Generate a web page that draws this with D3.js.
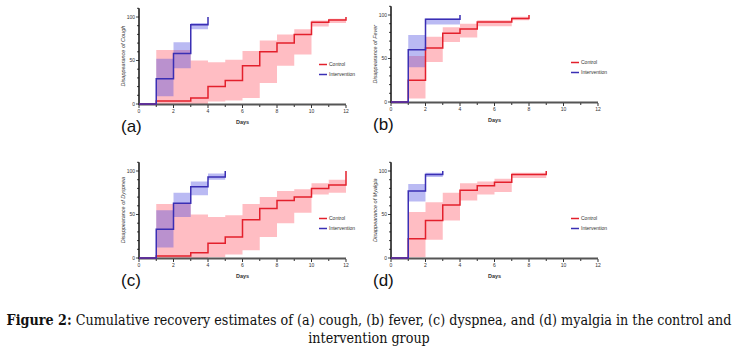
<!DOCTYPE html>
<html>
<head>
<script src="https://cdn.jsdelivr.net/npm/d3@7"></script>
<style>
  body { margin: 0; background: #fff; }
  text { font-family: "Liberation Sans", Arial, sans-serif; }
</style>
</head>
<body>
<svg width="738" height="353" id="mainSvg"></svg>
<script>
// days at which each step interval starts (0,1,2,...), value holds until next day
const symptoms = ["Cough", "Fever", "Dyspnea", "Myalgia"];
const panelTags = ["(a)", "(b)", "(c)", "(d)"];
const groups = ["Control", "Intervention"];
const xTicks = [0, 2, 4, 6, 8, 10, 12];
const yTicks = [0, 50, 100];

// (a) cough
const coughCtrl   = [0, 3.5, 3.5, 7, 20, 27, 44, 60, 70, 80, 94, 96.5];
const coughCtrlLo = [0, 0, 0, 0, 3, 4, 7, 24, 44, 57, 89, 93];
const coughCtrlHi = [0, 62, 62, 50, 48, 51, 61, 73, 80, 86, 96, 98];
const coughInt    = [0, 29, 58, 91];
const coughIntLo  = [0, 9, 41, 86];
const coughIntHi  = [0, 52, 71, 93];

// (b) fever
const feverCtrl   = [0, 25, 62, 79, 84, 92, 92, 96];
const feverCtrlLo = [0, 4, 46, 69, 74, 87, 87, 94];
const feverCtrlHi = [0, 53, 75, 86, 90, 94, 94, 98];
const feverInt    = [0, 60, 95, 95];
const feverIntLo  = [0, 40, 89, 89];
const feverIntHi  = [0, 77, 96, 96];

// (c) dyspnea
const dyspCtrl   = [0, 2.3, 2.3, 6, 17, 24, 44, 57, 66, 70, 80, 84];
const dyspCtrlLo = [0, 0, 0, 0, 1, 4, 9, 24, 40, 52, 73, 75];
const dyspCtrlHi = [0, 62, 62, 50, 47, 49, 62, 70, 77, 79, 86, 90];
const dyspInt    = [0, 33, 63, 82, 93];
const dyspIntLo  = [0, 12, 47, 72, 90];
const dyspIntHi  = [0, 55, 75, 88, 97];

// (d) myalgia
const myalCtrl   = [0, 22, 43, 61, 78, 83, 87, 96, 96];
const myalCtrlLo = [0, 1, 21, 43, 66, 73, 76, 92, 92];
const myalCtrlHi = [0, 53, 64, 75, 86, 88, 91, 98, 98];
const myalInt    = [0, 77, 96];
const myalIntLo  = [0, 65, 93];
const myalIntHi  = [0, 85, 98];

const panels = [
  { ctrl: [coughCtrl, coughCtrlLo, coughCtrlHi], int: [coughInt, coughIntLo, coughIntHi], x: 139, y: 104 },
  { ctrl: [feverCtrl, feverCtrlLo, feverCtrlHi], int: [feverInt, feverIntLo, feverIntHi], x: 391, y: 102 },
  { ctrl: [dyspCtrl, dyspCtrlLo, dyspCtrlHi],    int: [dyspInt, dyspIntLo, dyspIntHi],    x: 139, y: 258 },
  { ctrl: [myalCtrl, myalCtrlLo, myalCtrlHi],    int: [myalInt, myalIntLo, myalIntHi],    x: 391, y: 258 }
];

const colors = { line: ["#e3202c", "#3a2fb4"], band: ["#ff5a6a", "#4a4ae0"], bandOp: [0.4, 0.38] };

const svg = d3.select("#mainSvg");
svg.append("rect").attr("width", 738).attr("height", 353).attr("fill", "#fff");

const plotW = 207, plotH = 87;

panels.forEach((p, i) => {
  const g = svg.append("g").attr("transform", `translate(${p.x},${p.y})`);
  const x = d3.scaleLinear().domain([0, 12]).range([0, plotW]);
  const y = d3.scaleLinear().domain([0, 100]).range([0, -plotH]);

  const series = [p.ctrl, p.int];

  // confidence bands
  series.forEach((s, k) => {
    const [v, lo, hi] = s;
    const pts = v.map((d, j) => ({ t: j, lo: lo[j], hi: hi[j] }));
    pts.push({ t: v.length, lo: lo[lo.length - 1], hi: hi[hi.length - 1] });
    const area = d3.area().curve(d3.curveStepAfter)
      .x(d => x(d.t)).y0(d => y(d.lo)).y1(d => y(d.hi));
    g.append("path").attr("d", area(pts))
      .attr("fill", colors.band[k]).attr("fill-opacity", colors.bandOp[k]);
  });

  // axes
  const xAxis = g.append("g");
  xAxis.append("line").attr("x1", 0).attr("x2", plotW).attr("y1", 0.5).attr("y2", 0.5)
    .attr("stroke", "#555").attr("stroke-width", 2);
  d3.range(0, 13).forEach(t => {
    xAxis.append("line").attr("x1", x(t)).attr("x2", x(t)).attr("y1", 1).attr("y2", t % 2 === 0 ? 4 : 3)
      .attr("stroke", "#333").attr("stroke-width", 1);
  });
  xTicks.forEach(t => {
    xAxis.append("text").attr("x", x(t)).attr("y", 9).attr("text-anchor", "middle")
      .attr("font-size", 5).attr("fill", "#333").text(t);
  });
  xAxis.append("text").attr("x", plotW / 2).attr("y", 20).attr("text-anchor", "middle")
    .attr("font-size", 5.5).attr("font-weight", "bold").attr("fill", "#333").text("Days");

  const yAxis = g.append("g");
  yAxis.append("line").attr("x1", 0).attr("x2", 0).attr("y1", 1).attr("y2", y(110))
    .attr("stroke", "#111").attr("stroke-width", 1.5);
  d3.range(0, 111, 10).forEach(t => {
    yAxis.append("line").attr("x1", 0).attr("x2", t % 50 === 0 ? -3 : -2).attr("y1", y(t)).attr("y2", y(t))
      .attr("stroke", "#111").attr("stroke-width", 0.8);
  });
  yTicks.forEach(t => {
    yAxis.append("text").attr("x", -4).attr("y", y(t) + 1.8).attr("text-anchor", "end")
      .attr("font-size", 5).attr("fill", "#333").text(t);
  });
  yAxis.append("text").attr("transform", `translate(-14,${y(55)}) rotate(-90)`)
    .attr("text-anchor", "middle").attr("font-size", 5.5).attr("font-style", "italic")
    .attr("fill", "#333").text("Disappearance of " + symptoms[i]);

  // step lines
  series.forEach((s, k) => {
    const v = s[0];
    const pts = v.map((d, j) => [j, d]);
    pts.push([v.length, v[v.length - 1]], [v.length, 100]);
    const line = d3.line().curve(d3.curveStepAfter).x(d => x(d[0])).y(d => y(d[1]));
    g.append("path").attr("d", line(pts)).attr("fill", "none")
      .attr("stroke", colors.line[k]).attr("stroke-width", 1.5);
  });

  // legend
  groups.forEach((name, k) => {
    const ly = y(50) + 4 + k * 10;
    g.append("line").attr("x1", 180).attr("x2", 188).attr("y1", ly).attr("y2", ly)
      .attr("stroke", colors.line[k]).attr("stroke-width", 1.5);
    g.append("text").attr("x", 190).attr("y", ly + 1.8).attr("font-size", 5)
      .attr("fill", "#333").text(name);
  });

  // panel tag
  g.append("text").attr("x", -18).attr("y", 28).attr("font-size", 17)
    .attr("fill", "#111").text(panelTags[i]);
});

// caption
const capFont = "'DejaVu Serif Condensed', 'Liberation Serif', serif";
const cap = svg.append("text").attr("x", 369).attr("y", 325).attr("text-anchor", "middle")
  .attr("font-size", 14.2).attr("fill", "#111").style("font-family", capFont);
cap.append("tspan").attr("font-weight", "bold").text("Figure 2:");
cap.append("tspan").text(" Cumulative recovery estimates of (a) cough, (b) fever, (c) dyspnea, and (d) myalgia in the control and");
svg.append("text").attr("x", 369).attr("y", 343).attr("text-anchor", "middle")
  .attr("font-size", 14.2).attr("fill", "#111").style("font-family", capFont)
  .text("intervention group");
</script>
</body>
</html>
